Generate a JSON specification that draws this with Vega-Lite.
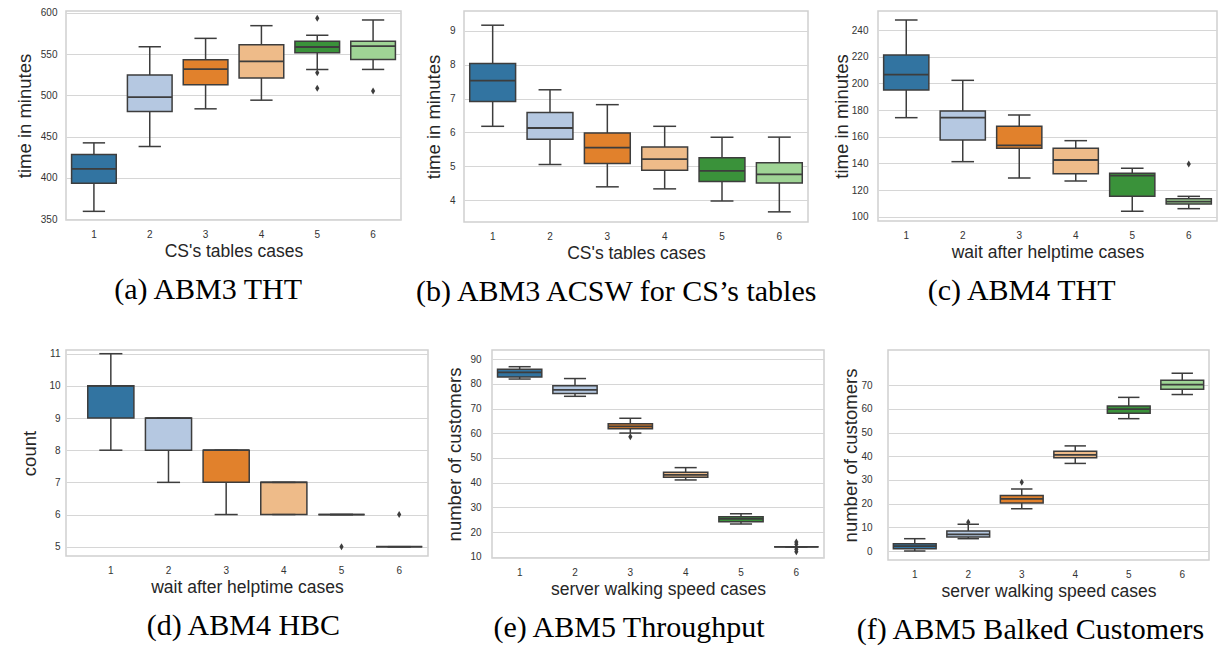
{
  "$schema": "https://vega.github.io/schema/vega-lite/v6.json",
  "padding": {"left": 14, "top": 7, "right": 0, "bottom": 0},
  "background": "white",
  "datasets": {
    "abm3_tht": [
      {"case": "1", "lo": 359.3, "q1": 393.4, "med": 410.8, "q3": 428.2, "hi": 442.4},
      {"case": "2", "lo": 437.9, "q1": 480.5, "med": 497.9, "q3": 524.6, "hi": 559.1},
      {"case": "3", "lo": 483.7, "q1": 512.9, "med": 531.9, "q3": 543.3, "hi": 569.2},
      {"case": "4", "lo": 494.2, "q1": 521.0, "med": 541.2, "q3": 561.5, "hi": 584.6},
      {"case": "5", "lo": 531.5, "q1": 551.8, "med": 558.7, "q3": 565.6, "hi": 572.9},
      {"case": "6", "lo": 531.5, "q1": 543.7, "med": 559.9, "q3": 565.6, "hi": 591.5}
    ],
    "abm3_tht_out": [
      {"case": "5", "value": 593.5},
      {"case": "5", "value": 527.5},
      {"case": "5", "value": 508.8},
      {"case": "6", "value": 505.2}
    ],
    "abm3_acsw": [
      {"case": "1", "lo": 6.18, "q1": 6.91, "med": 7.53, "q3": 8.04, "hi": 9.17},
      {"case": "2", "lo": 5.05, "q1": 5.80, "med": 6.13, "q3": 6.59, "hi": 7.26},
      {"case": "3", "lo": 4.39, "q1": 5.08, "med": 5.55, "q3": 5.98, "hi": 6.82},
      {"case": "4", "lo": 4.33, "q1": 4.88, "med": 5.21, "q3": 5.57, "hi": 6.18},
      {"case": "5", "lo": 3.97, "q1": 4.55, "med": 4.86, "q3": 5.25, "hi": 5.86},
      {"case": "6", "lo": 3.65, "q1": 4.50, "med": 4.76, "q3": 5.10, "hi": 5.86}
    ],
    "abm4_tht": [
      {"case": "1", "lo": 174.25, "q1": 195.0, "med": 206.5, "q3": 221.25, "hi": 247.5},
      {"case": "2", "lo": 141.25, "q1": 157.5, "med": 174.25, "q3": 179.25, "hi": 202.25},
      {"case": "3", "lo": 129.0, "q1": 151.25, "med": 153.5, "q3": 167.75, "hi": 176.25},
      {"case": "4", "lo": 126.75, "q1": 132.25, "med": 142.5, "q3": 151.25, "hi": 157.0},
      {"case": "5", "lo": 104.0, "q1": 115.25, "med": 130.75, "q3": 132.5, "hi": 136.25},
      {"case": "6", "lo": 106.0, "q1": 109.5, "med": 111.25, "q3": 113.5, "hi": 115.25}
    ],
    "abm4_tht_out": [
      {"case": "6", "value": 139.5}
    ],
    "abm4_hbc": [
      {"case": "1", "lo": 8, "q1": 9, "med": 10, "q3": 10, "hi": 11},
      {"case": "2", "lo": 7, "q1": 8, "med": 9, "q3": 9, "hi": 9},
      {"case": "3", "lo": 6, "q1": 7, "med": 8, "q3": 8, "hi": 8},
      {"case": "4", "lo": 6, "q1": 6, "med": 7, "q3": 7, "hi": 7},
      {"case": "5", "lo": 6, "q1": 6, "med": 6, "q3": 6, "hi": 6},
      {"case": "6", "lo": 5, "q1": 5, "med": 5, "q3": 5, "hi": 5}
    ],
    "abm4_hbc_out": [
      {"case": "5", "value": 5},
      {"case": "6", "value": 6}
    ],
    "abm5_thr": [
      {"case": "1", "lo": 82.0, "q1": 82.8, "med": 84.7, "q3": 86.0, "hi": 87.0},
      {"case": "2", "lo": 75.0, "q1": 76.1, "med": 77.6, "q3": 79.3, "hi": 82.2},
      {"case": "3", "lo": 60.1, "q1": 61.9, "med": 62.8, "q3": 63.9, "hi": 66.1},
      {"case": "4", "lo": 41.1, "q1": 42.2, "med": 43.2, "q3": 44.2, "hi": 46.1},
      {"case": "5", "lo": 23.2, "q1": 24.2, "med": 25.3, "q3": 26.2, "hi": 27.4},
      {"case": "6", "lo": 14.0, "q1": 14.0, "med": 14.0, "q3": 14.0, "hi": 14.0}
    ],
    "abm5_thr_out": [
      {"case": "3", "value": 58.6},
      {"case": "6", "value": 16},
      {"case": "6", "value": 15},
      {"case": "6", "value": 13},
      {"case": "6", "value": 12}
    ],
    "abm5_balk": [
      {"case": "1", "lo": 0.0, "q1": 1.0, "med": 2.1, "q3": 3.1, "hi": 5.2},
      {"case": "2", "lo": 5.2, "q1": 5.9, "med": 7.0, "q3": 8.4, "hi": 11.3},
      {"case": "3", "lo": 17.9, "q1": 20.3, "med": 22.0, "q3": 23.4, "hi": 26.2},
      {"case": "4", "lo": 37.0, "q1": 39.4, "med": 40.6, "q3": 42.1, "hi": 44.4},
      {"case": "5", "lo": 55.9, "q1": 58.2, "med": 59.9, "q3": 61.3, "hi": 64.9},
      {"case": "6", "lo": 66.1, "q1": 68.3, "med": 70.3, "q3": 72.1, "hi": 75.1}
    ],
    "abm5_balk_out": [
      {"case": "2", "value": 12.1},
      {"case": "3", "value": 29.0}
    ]
  },
  "vconcat": [
    {
      "hconcat": [
        {
          "width": 335, "height": 209,
          "title": {"text": "(a) ABM3 THT"},
          "data": {"name": "abm3_tht"},
          "encoding": {"x": {"field": "case", "type": "nominal", "title": "CS's tables cases", "scale": {"paddingInner": 0, "paddingOuter": 0}}},
          "layer": [
            {"mark": {"type": "rule", "color": "#3d3d3d", "strokeWidth": 1.5},
             "encoding": {"y": {"field": "lo", "type": "quantitative", "title": "time in minutes", "scale": {"domain": [348.8, 602.4], "nice": false, "zero": false}, "axis": {"values": [350, 400, 450, 500, 550, 600], "tickCount": 20, "format": "d", "labelPadding": 9, "titlePadding": 6}}, "y2": {"field": "hi"}}},
            {"mark": {"type": "bar", "width": {"band": 0.8}, "stroke": "#3d3d3d", "strokeWidth": 1.5, "opacity": 1},
             "encoding": {"y": {"field": "q1", "type": "quantitative", "title": "time in minutes", "scale": {"domain": [348.8, 602.4], "nice": false, "zero": false}}, "y2": {"field": "q3"}, "fill": {"field": "case", "type": "nominal", "legend": null}}},
            {"mark": {"type": "tick", "orient": "horizontal", "size": 44.7, "thickness": 1.8, "color": "#3d3d3d", "opacity": 1},
             "encoding": {"y": {"field": "med", "type": "quantitative", "title": "time in minutes", "scale": {"domain": [348.8, 602.4], "nice": false, "zero": false}}}},
            {"mark": {"type": "tick", "orient": "horizontal", "size": 22.3, "thickness": 1.5, "color": "#3d3d3d", "opacity": 1},
             "encoding": {"y": {"field": "lo", "type": "quantitative", "title": "time in minutes", "scale": {"domain": [348.8, 602.4], "nice": false, "zero": false}}}},
            {"mark": {"type": "tick", "orient": "horizontal", "size": 22.3, "thickness": 1.5, "color": "#3d3d3d", "opacity": 1},
             "encoding": {"y": {"field": "hi", "type": "quantitative", "title": "time in minutes", "scale": {"domain": [348.8, 602.4], "nice": false, "zero": false}}}},
            {"data": {"name": "abm3_tht_out"},
             "mark": {"type": "point", "shape": "M0,-1L0.6,0L0,1L-0.6,0Z", "size": 49, "filled": true, "color": "#3d3d3d", "opacity": 1},
             "encoding": {"y": {"field": "value", "type": "quantitative", "title": "time in minutes", "scale": {"domain": [348.8, 602.4], "nice": false, "zero": false}}}}
          ]
        },
        {
          "width": 344, "height": 211,
          "title": {"text": "(b) ABM3 ACSW for CS’s tables"},
          "data": {"name": "abm3_acsw"},
          "encoding": {"x": {"field": "case", "type": "nominal", "title": "CS's tables cases", "scale": {"paddingInner": 0, "paddingOuter": 0}}},
          "layer": [
            {"mark": {"type": "rule", "color": "#3d3d3d", "strokeWidth": 1.5},
             "encoding": {"y": {"field": "lo", "type": "quantitative", "title": "time in minutes", "scale": {"domain": [3.35, 9.59], "nice": false, "zero": false}, "axis": {"values": [4, 5, 6, 7, 8, 9], "tickCount": 20, "format": "d", "labelPadding": 9, "titlePadding": 6}}, "y2": {"field": "hi"}}},
            {"mark": {"type": "bar", "width": {"band": 0.8}, "stroke": "#3d3d3d", "strokeWidth": 1.5, "opacity": 1},
             "encoding": {"y": {"field": "q1", "type": "quantitative", "title": "time in minutes", "scale": {"domain": [3.35, 9.59], "nice": false, "zero": false}}, "y2": {"field": "q3"}, "fill": {"field": "case", "type": "nominal", "legend": null}}},
            {"mark": {"type": "tick", "orient": "horizontal", "size": 45.9, "thickness": 1.8, "color": "#3d3d3d", "opacity": 1},
             "encoding": {"y": {"field": "med", "type": "quantitative", "title": "time in minutes", "scale": {"domain": [3.35, 9.59], "nice": false, "zero": false}}}},
            {"mark": {"type": "tick", "orient": "horizontal", "size": 22.9, "thickness": 1.5, "color": "#3d3d3d", "opacity": 1},
             "encoding": {"y": {"field": "lo", "type": "quantitative", "title": "time in minutes", "scale": {"domain": [3.35, 9.59], "nice": false, "zero": false}}}},
            {"mark": {"type": "tick", "orient": "horizontal", "size": 22.9, "thickness": 1.5, "color": "#3d3d3d", "opacity": 1},
             "encoding": {"y": {"field": "hi", "type": "quantitative", "title": "time in minutes", "scale": {"domain": [3.35, 9.59], "nice": false, "zero": false}}}}
          ]
        },
        {
          "width": 339, "height": 210,
          "title": {"text": "(c) ABM4 THT", "dx": -3},
          "data": {"name": "abm4_tht"},
          "encoding": {"x": {"field": "case", "type": "nominal", "title": "wait after helptime cases", "scale": {"paddingInner": 0, "paddingOuter": 0}}},
          "layer": [
            {"mark": {"type": "rule", "color": "#3d3d3d", "strokeWidth": 1.5},
             "encoding": {"y": {"field": "lo", "type": "quantitative", "title": "time in minutes", "scale": {"domain": [96.75, 254.25], "nice": false, "zero": false}, "axis": {"values": [100, 120, 140, 160, 180, 200, 220, 240], "tickCount": 20, "format": "d", "labelPadding": 10, "titlePadding": 0}}, "y2": {"field": "hi"}}},
            {"mark": {"type": "bar", "width": {"band": 0.8}, "stroke": "#3d3d3d", "strokeWidth": 1.5, "opacity": 1},
             "encoding": {"y": {"field": "q1", "type": "quantitative", "title": "time in minutes", "scale": {"domain": [96.75, 254.25], "nice": false, "zero": false}}, "y2": {"field": "q3"}, "fill": {"field": "case", "type": "nominal", "legend": null}}},
            {"mark": {"type": "tick", "orient": "horizontal", "size": 45.2, "thickness": 1.8, "color": "#3d3d3d", "opacity": 1},
             "encoding": {"y": {"field": "med", "type": "quantitative", "title": "time in minutes", "scale": {"domain": [96.75, 254.25], "nice": false, "zero": false}}}},
            {"mark": {"type": "tick", "orient": "horizontal", "size": 22.6, "thickness": 1.5, "color": "#3d3d3d", "opacity": 1},
             "encoding": {"y": {"field": "lo", "type": "quantitative", "title": "time in minutes", "scale": {"domain": [96.75, 254.25], "nice": false, "zero": false}}}},
            {"mark": {"type": "tick", "orient": "horizontal", "size": 22.6, "thickness": 1.5, "color": "#3d3d3d", "opacity": 1},
             "encoding": {"y": {"field": "hi", "type": "quantitative", "title": "time in minutes", "scale": {"domain": [96.75, 254.25], "nice": false, "zero": false}}}},
            {"data": {"name": "abm4_tht_out"},
             "mark": {"type": "point", "shape": "M0,-1L0.6,0L0,1L-0.6,0Z", "size": 49, "filled": true, "color": "#3d3d3d", "opacity": 1},
             "encoding": {"y": {"field": "value", "type": "quantitative", "title": "time in minutes", "scale": {"domain": [96.75, 254.25], "nice": false, "zero": false}}}}
          ]
        }
      ],
      "spacing": 11
    },
    {
      "hconcat": [
        {
          "width": 362, "height": 206,
          "title": {"text": "(d) ABM4 HBC", "dx": 19},
          "data": {"name": "abm4_hbc"},
          "encoding": {"x": {"field": "case", "type": "nominal", "title": "wait after helptime cases", "scale": {"paddingInner": 0, "paddingOuter": 0.1387, "align": 1}}},
          "layer": [
            {"mark": {"type": "rule", "color": "#3d3d3d", "strokeWidth": 1.5},
             "encoding": {"y": {"field": "lo", "type": "quantitative", "title": "count", "scale": {"domain": [4.711, 11.115], "nice": false, "zero": false}, "axis": {"values": [5, 6, 7, 8, 9, 10, 11], "tickCount": 20, "format": "d", "labelPadding": 6, "titlePadding": 9}}, "y2": {"field": "hi"}}},
            {"mark": {"type": "bar", "width": {"band": 0.8}, "stroke": "#3d3d3d", "strokeWidth": 1.5, "opacity": 1},
             "encoding": {"y": {"field": "q1", "type": "quantitative", "title": "count", "scale": {"domain": [4.711, 11.115], "nice": false, "zero": false}}, "y2": {"field": "q3"}, "fill": {"field": "case", "type": "nominal", "legend": null}}},
            {"mark": {"type": "tick", "orient": "horizontal", "size": 46.1, "thickness": 1.8, "color": "#3d3d3d", "opacity": 1},
             "encoding": {"y": {"field": "med", "type": "quantitative", "title": "count", "scale": {"domain": [4.711, 11.115], "nice": false, "zero": false}}}},
            {"mark": {"type": "tick", "orient": "horizontal", "size": 23.1, "thickness": 1.5, "color": "#3d3d3d", "opacity": 1},
             "encoding": {"y": {"field": "lo", "type": "quantitative", "title": "count", "scale": {"domain": [4.711, 11.115], "nice": false, "zero": false}}}},
            {"mark": {"type": "tick", "orient": "horizontal", "size": 23.1, "thickness": 1.5, "color": "#3d3d3d", "opacity": 1},
             "encoding": {"y": {"field": "hi", "type": "quantitative", "title": "count", "scale": {"domain": [4.711, 11.115], "nice": false, "zero": false}}}},
            {"data": {"name": "abm4_hbc_out"},
             "mark": {"type": "point", "shape": "M0,-1L0.6,0L0,1L-0.6,0Z", "size": 49, "filled": true, "color": "#3d3d3d", "opacity": 1},
             "encoding": {"y": {"field": "value", "type": "quantitative", "title": "count", "scale": {"domain": [4.711, 11.115], "nice": false, "zero": false}}}}
          ]
        },
        {
          "width": 332, "height": 208,
          "title": {"text": "(e) ABM5 Throughput", "dx": -6},
          "data": {"name": "abm5_thr"},
          "encoding": {"x": {"field": "case", "type": "nominal", "title": "server walking speed cases", "scale": {"paddingInner": 0, "paddingOuter": 0}}},
          "layer": [
            {"mark": {"type": "rule", "color": "#3d3d3d", "strokeWidth": 1.5},
             "encoding": {"y": {"field": "lo", "type": "quantitative", "title": "number of customers", "scale": {"domain": [9.47, 93.77], "nice": false, "zero": false}, "axis": {"values": [10, 20, 30, 40, 50, 60, 70, 80, 90], "tickCount": 20, "format": "d", "labelPadding": 11, "titlePadding": 5}}, "y2": {"field": "hi"}}},
            {"mark": {"type": "bar", "width": {"band": 0.8}, "stroke": "#3d3d3d", "strokeWidth": 1.5, "opacity": 1},
             "encoding": {"y": {"field": "q1", "type": "quantitative", "title": "number of customers", "scale": {"domain": [9.47, 93.77], "nice": false, "zero": false}}, "y2": {"field": "q3"}, "fill": {"field": "case", "type": "nominal", "legend": null}}},
            {"mark": {"type": "tick", "orient": "horizontal", "size": 44.3, "thickness": 1.8, "color": "#3d3d3d", "opacity": 1},
             "encoding": {"y": {"field": "med", "type": "quantitative", "title": "number of customers", "scale": {"domain": [9.47, 93.77], "nice": false, "zero": false}}}},
            {"mark": {"type": "tick", "orient": "horizontal", "size": 22.1, "thickness": 1.5, "color": "#3d3d3d", "opacity": 1},
             "encoding": {"y": {"field": "lo", "type": "quantitative", "title": "number of customers", "scale": {"domain": [9.47, 93.77], "nice": false, "zero": false}}}},
            {"mark": {"type": "tick", "orient": "horizontal", "size": 22.1, "thickness": 1.5, "color": "#3d3d3d", "opacity": 1},
             "encoding": {"y": {"field": "hi", "type": "quantitative", "title": "number of customers", "scale": {"domain": [9.47, 93.77], "nice": false, "zero": false}}}},
            {"data": {"name": "abm5_thr_out"},
             "mark": {"type": "point", "shape": "M0,-1L0.6,0L0,1L-0.6,0Z", "size": 49, "filled": true, "color": "#3d3d3d", "opacity": 1},
             "encoding": {"y": {"field": "value", "type": "quantitative", "title": "number of customers", "scale": {"domain": [9.47, 93.77], "nice": false, "zero": false}}}}
          ]
        },
        {
          "width": 321, "height": 210,
          "title": {"text": "(f) ABM5 Balked Customers", "dx": 5},
          "data": {"name": "abm5_balk"},
          "encoding": {"x": {"field": "case", "type": "nominal", "title": "server walking speed cases", "scale": {"paddingInner": 0, "paddingOuter": 0}}},
          "layer": [
            {"mark": {"type": "rule", "color": "#3d3d3d", "strokeWidth": 1.5},
             "encoding": {"y": {"field": "lo", "type": "quantitative", "title": "number of customers", "scale": {"domain": [-3.8, 84.91], "nice": false, "zero": false}, "axis": {"values": [0, 10, 20, 30, 40, 50, 60, 70], "tickCount": 20, "format": "d", "labelPadding": 16, "titlePadding": 0}}, "y2": {"field": "hi"}}},
            {"mark": {"type": "bar", "width": {"band": 0.8}, "stroke": "#3d3d3d", "strokeWidth": 1.5, "opacity": 1},
             "encoding": {"y": {"field": "q1", "type": "quantitative", "title": "number of customers", "scale": {"domain": [-3.8, 84.91], "nice": false, "zero": false}}, "y2": {"field": "q3"}, "fill": {"field": "case", "type": "nominal", "legend": null}}},
            {"mark": {"type": "tick", "orient": "horizontal", "size": 42.8, "thickness": 1.8, "color": "#3d3d3d", "opacity": 1},
             "encoding": {"y": {"field": "med", "type": "quantitative", "title": "number of customers", "scale": {"domain": [-3.8, 84.91], "nice": false, "zero": false}}}},
            {"mark": {"type": "tick", "orient": "horizontal", "size": 21.4, "thickness": 1.5, "color": "#3d3d3d", "opacity": 1},
             "encoding": {"y": {"field": "lo", "type": "quantitative", "title": "number of customers", "scale": {"domain": [-3.8, 84.91], "nice": false, "zero": false}}}},
            {"mark": {"type": "tick", "orient": "horizontal", "size": 21.4, "thickness": 1.5, "color": "#3d3d3d", "opacity": 1},
             "encoding": {"y": {"field": "hi", "type": "quantitative", "title": "number of customers", "scale": {"domain": [-3.8, 84.91], "nice": false, "zero": false}}}},
            {"data": {"name": "abm5_balk_out"},
             "mark": {"type": "point", "shape": "M0,-1L0.6,0L0,1L-0.6,0Z", "size": 49, "filled": true, "color": "#3d3d3d", "opacity": 1},
             "encoding": {"y": {"field": "value", "type": "quantitative", "title": "number of customers", "scale": {"domain": [-3.8, 84.91], "nice": false, "zero": false}}}}
          ]
        }
      ],
      "spacing": 16
    }
  ],
  "spacing": 39,
  "config": {
    "view": {"stroke": "#d0d0d0", "strokeWidth": 1.5},
    "range": {"category": ["#3274a1", "#b5c8e1", "#e1812c", "#eebb89", "#3a923a", "#9fd495"]},
    "axis": {
      "labelFont": "Liberation Sans", "titleFont": "Liberation Sans",
      "labelColor": "#333333", "titleColor": "#262626",
      "labelFontSize": 10, "titleFontWeight": "normal",
      "labelOverlap": false,
      "domain": false, "ticks": false,
      "gridColor": "#d6d6d6", "gridWidth": 1
    },
    "axisX": {"grid": false, "labelAngle": 0, "labelPadding": 9, "titleFontSize": 17.5, "titlePadding": 3},
    "axisY": {"grid": true, "titleFontSize": 18.5},
    "title": {
      "orient": "bottom", "frame": "bounds", "anchor": "middle",
      "font": "Liberation Serif", "fontSize": 30, "fontWeight": "normal",
      "color": "#000000", "offset": 15
    }
  }
}
